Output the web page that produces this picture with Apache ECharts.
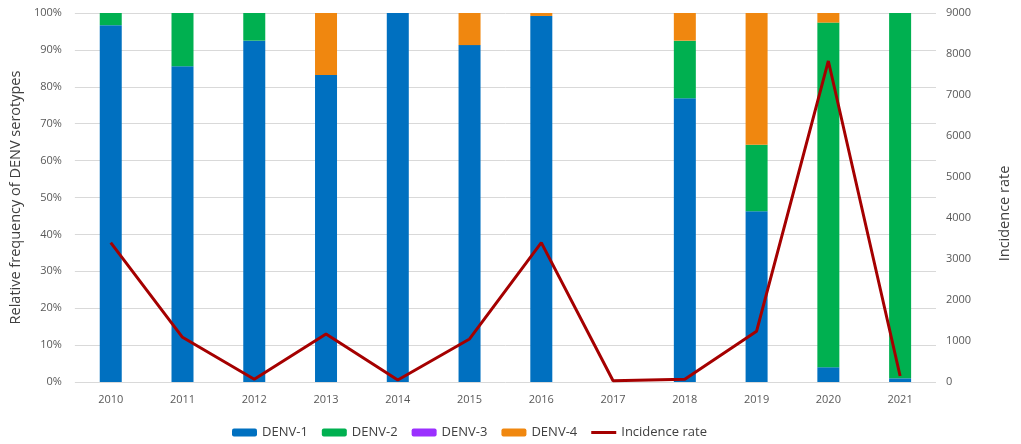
<!DOCTYPE html>
<html><head><meta charset="utf-8">
<script src="https://cdn.jsdelivr.net/npm/echarts@6/dist/echarts.min.js"></script>
<style>html,body{margin:0;padding:0;background:#fff}#c{width:1021px;height:444px}</style>
</head><body><div id="c"></div>
<script>
const years = ['2010','2011','2012','2013','2014','2015','2016','2017','2018','2019','2020','2021'];
const denv1 = [96.7, 85.6, 92.5, 83.2, 100, 91.3, 99.2, null, 76.9, 46.3, 4.0, 1.0];
const denv2 = [3.3, 14.4, 7.5, 0, 0, 0, 0, null, 15.6, 18.0, 93.4, 99.0];
const denv3 = [0, 0, 0, 0, 0, 0, 0, null, 0, 0, 0, 0];
const denv4 = [0, 0, 0, 16.8, 0, 8.7, 0.8, null, 7.5, 35.7, 2.6, 0];
const incidence = [3400, 1090, 66, 1170, 50, 1050, 3400, 30, 66, 1240, 7830, 146];

const font = 'Open Sans';
const chart = echarts.init(document.getElementById('c'));
const barBase = {type:'bar', stack:'s', barWidth:22, yAxisIndex:0};
chart.setOption({
  animation:false,
  textStyle:{fontFamily:font},
  grid:{left:73, right:85, top:13, bottom:62},
  legend:{
    left:227, top:421, itemWidth:25, itemHeight:8, itemGap:14,
    textStyle:{fontSize:13, color:'#404040', fontFamily:font},
    data:['DENV-1','DENV-2','DENV-3','DENV-4',
      {name:'Incidence rate', icon:'path://M0,0 H25 V3 H0 Z'}]
  },
  xAxis:{
    type:'category', data:years,
    axisLine:{show:false}, axisTick:{show:false},
    axisLabel:{color:'#595959', fontSize:11, margin:12}
  },
  yAxis:[{
    type:'value', min:0, max:100, interval:10,
    name:'Relative frequency of DENV serotypes', nameLocation:'middle', nameGap:50,
    nameTextStyle:{fontSize:14.5, color:'#404040'},
    axisLabel:{formatter:'{value}%', color:'#595959', fontSize:11, margin:13},
    splitLine:{lineStyle:{color:'#d9d9d9'}}
  },{
    type:'value', min:0, max:9000, interval:1000,
    name:'Incidence rate', nameLocation:'middle', nameGap:61,
    nameTextStyle:{fontSize:14.5, color:'#404040', padding:[0,32,0,0]},
    axisLabel:{formatter:(v)=>String(v), color:'#595959', fontSize:11, margin:10},
    splitLine:{show:false}
  }],
  series:[
    Object.assign({name:'DENV-1', data:denv1, itemStyle:{color:'#0070C0'}}, barBase),
    Object.assign({name:'DENV-2', data:denv2, itemStyle:{color:'#00B050'}}, barBase),
    Object.assign({name:'DENV-3', data:denv3, itemStyle:{color:'#9B30FF'}}, barBase),
    Object.assign({name:'DENV-4', data:denv4, itemStyle:{color:'#F0870F'}}, barBase),
    {name:'Incidence rate', type:'line', yAxisIndex:1, data:incidence, symbol:'none',
     lineStyle:{color:'#A50000', width:3}, itemStyle:{color:'#A50000'}}
  ]
});
</script></body></html>
